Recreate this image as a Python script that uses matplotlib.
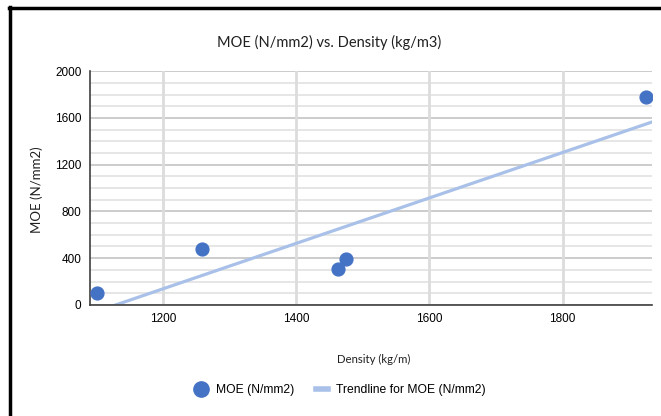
import matplotlib.pyplot as plt
from matplotlib.lines import Line2D
import numpy as np

density = [1101, 1259, 1463, 1474, 1925]
moe = [103, 481, 309, 395, 1777]

x_ticks = [1200, 1400, 1600, 1800]
y_ticks = [0, 400, 800, 1200, 1600, 2000]

fig = plt.figure(figsize=(6.61, 4.16), dpi=100)
ax = fig.add_axes([0.136, 0.267, 0.851, 0.562])

x = np.array(density)
y = np.array(moe)

# linear trendline, same as Excel's
slope, intercept = np.polyfit(x, y, 1)
x_min, x_max = 1090, 1935
tx = np.array([x_min, x_max])

# grid
for v in range(0, 2001, 100):
    major = v % 400 == 0
    ax.axhline(v, color='#c8c8c8' if major else '#e4e4e4', lw=1.3, zorder=0)
for v in x_ticks:
    ax.axvline(v, color='#dcdcdc', lw=2, zorder=0)

ax.scatter(x, y, s=85, color='#4472c4', zorder=3, label='MOE (N/mm2)')
ax.plot(tx, slope * tx + intercept, color='#a9c1e8', lw=2.3, zorder=2,
        label='Trendline for MOE (N/mm2)')

ax.set_xlim(x_min, x_max)
ax.set_ylim(0, 2000)
ax.set_xticks(x_ticks)
ax.set_yticks(y_ticks)
ax.tick_params(length=0, labelsize=8.5, pad=6)
for lab in ax.get_xticklabels() + ax.get_yticklabels():
    lab.set_family('Liberation Sans')

for s in ['top', 'right']:
    ax.spines[s].set_visible(False)
ax.spines['left'].set_color('#404040')
ax.spines['bottom'].set_color('#404040')
ax.spines['left'].set_linewidth(1.2)
ax.spines['bottom'].set_linewidth(1.2)

fig.text(0.498, 0.899, 'MOE (N/mm2) vs. Density (kg/m3)', ha='center', va='center',
         fontsize=10.5, family='Lato', color='#202020')
fig.text(0.565, 0.137, 'Density (kg/m)', ha='center', va='center',
         fontsize=8.2, family='Lato', color='#202020')
fig.text(0.056, 0.545, 'MOE (N/mm2)', ha='center', va='center', rotation=90,
         fontsize=9.5, family='Lato', color='#202020')

handles = [
    Line2D([], [], marker='o', ls='none', color='#4472c4', markersize=11),
    Line2D([], [], color='#a9c1e8', lw=4),
]
fig.legend(handles, ['MOE (N/mm2)', 'Trendline for MOE (N/mm2)'],
           loc='center', bbox_to_anchor=(0.515, 0.062), ncol=2, frameon=False,
           prop={'family': 'Liberation Sans', 'size': 8.7},
           handlelength=1.0, columnspacing=1.8, handletextpad=0.7)

# black frame (left and top edges visible in the crop)
fig.add_artist(Line2D([0.015, 0.015], [0.0, 0.982], color='black', lw=2.5,
                      transform=fig.transFigure))
fig.add_artist(Line2D([0.013, 1.0], [0.98, 0.98], color='black', lw=2.5,
                      transform=fig.transFigure))

fig.savefig('out.png', dpi=100)
